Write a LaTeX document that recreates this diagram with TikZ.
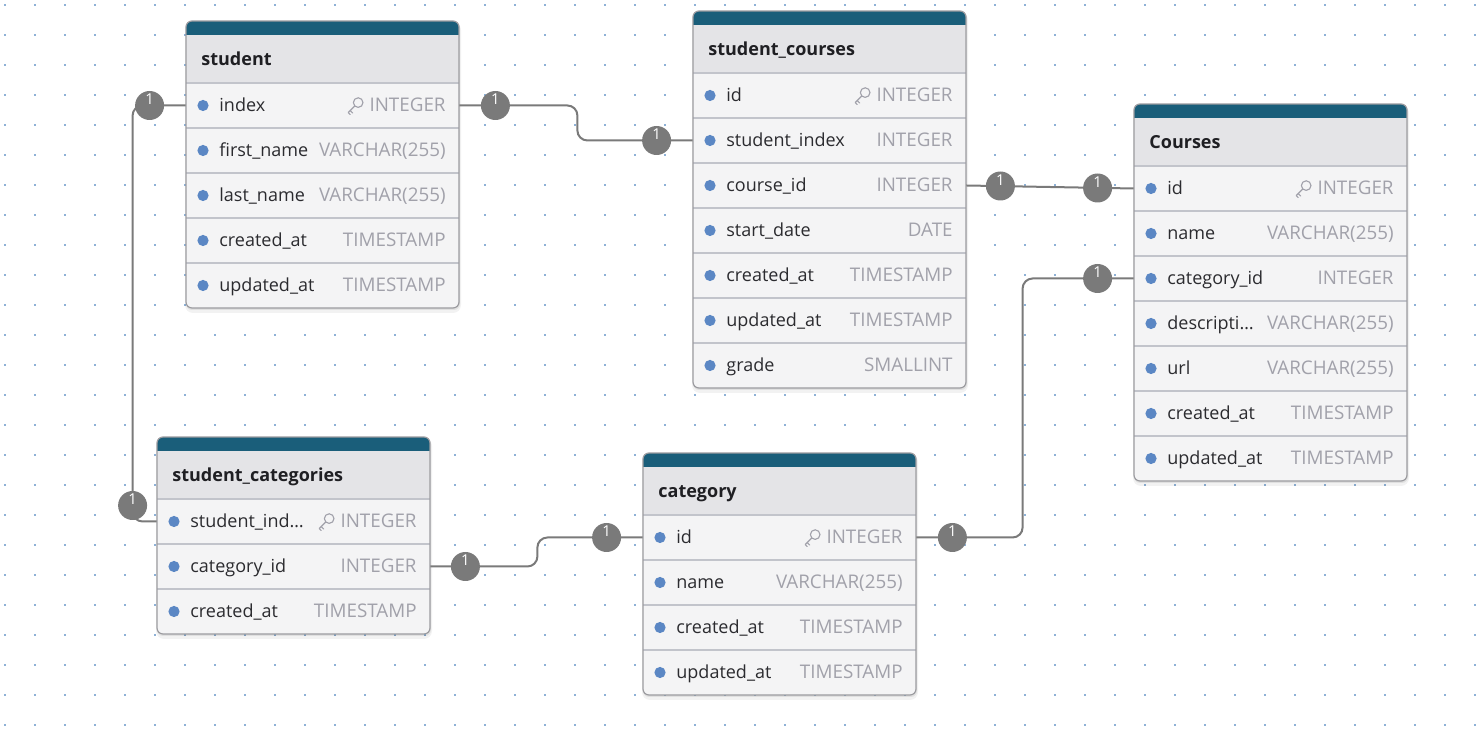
\documentclass[tikz,border=0pt]{standalone}
\usepackage{fontspec}
\setmainfont{Open Sans}

\definecolor{teal}{HTML}{1A5E7A}
\definecolor{headbg}{HTML}{E4E4E7}
\definecolor{rowbg}{HTML}{F4F4F5}
\definecolor{sepc}{HTML}{C2C4CB}
\definecolor{borderc}{HTML}{9C9CA0}
\definecolor{bulletc}{HTML}{5B87C4}
\definecolor{namec}{HTML}{2B2B2F}
\definecolor{typec}{HTML}{A1A1AA}
\definecolor{titlec}{HTML}{1F1F23}
\definecolor{linec}{HTML}{7A7A7A}
\definecolor{dotc}{HTML}{8EB1D6}

% #1 name, #2 left, #3 top, #4 rows, #5 title, #6 fields
\newcommand{\erdtable}[6]{%
	\pgfmathsetmacro\tabbot{#3+62+45*#4}
	\fill[black, opacity=.05, rounded corners=4pt] ({#2-1},{#3+1}) rectangle ({#2+275},{\tabbot+5});
	\fill[black, opacity=.07, rounded corners=3pt] (#2,{#3+1}) rectangle ({#2+274},{\tabbot+2});
	\fill[rowbg, rounded corners=3pt] (#2,#3) rectangle ({#2+273},\tabbot);
	\begin{scope}
		\clip[rounded corners=3pt] (#2,#3) rectangle ({#2+273},\tabbot);
		\fill[teal] (#2,#3) rectangle ({#2+273},{#3+14});
		\fill[headbg] (#2,{#3+14}) rectangle ({#2+273},{#3+62});
	\end{scope}
	\node[tabtitle] (#1) at ({#2+15},{#3+38+6.5}) {#5};
	\draw[sep] (#2,{#3+62}) -- ({#2+273},{#3+62});
	\foreach \fname/\ftype/\fkey [count=\i] in {#6}{
		\pgfmathsetmacro\ry{#3+62+45*\i-22.5}
		\node[rowbox] (#1-\i) at ({#2+136.5},\ry) {};
		\fill[bulletc] ({#2+17},\ry) circle (2.8pt);
		\node[fieldname] at ({#2+33},{\ry+6.5}) {\fname};
		\node[fieldtype] (#1-t\i) at ({#2+260},{\ry+6.5}) {\ftype};
		\ifnum\fkey=1\relax
			% key
			\begin{scope}[shift={([xshift=-7pt,yshift=3.2pt]#1-t\i.base west)}]
				\draw[keyic] (3,-3) circle (2.4pt);
				\draw[keyic, line cap=round] (-0.5,0.5) -- (-7,7) (-5,5) -- (-2.5,7.5) (-7,7) -- (-5,9);
			\end{scope}
		\fi
		\ifnum\i<#4\relax
			\draw[sep] (#2,{#3+62+45*\i}) -- ({#2+273},{#3+62+45*\i});
		\fi
	}
	\draw[tabborder, rounded corners=3pt] (#2,#3) rectangle ({#2+273},\tabbot);
}

\begin{document}
\begin{tikzpicture}[x=0.5pt, y=-0.5pt,
	tabtitle/.style={anchor=base west, inner sep=0, text=titlec, font=\bfseries\fontsize{9}{11}\selectfont},
	fieldname/.style={anchor=base west, inner sep=0, text=namec, font=\fontsize{9}{11}\selectfont},
	fieldtype/.style={anchor=base east, inner sep=0, text=typec, font=\fontsize{9.4}{11}\selectfont},
	rowbox/.style={minimum width=136.5pt, minimum height=22.5pt, inner sep=0},
	sep/.style={draw=sepc, line width=.7pt},
	tabborder/.style={draw=borderc, line width=.6pt},
	keyic/.style={draw=typec, line width=.55pt},
	conn/.style={draw=linec, line width=1pt, rounded corners=5pt},
	one/.style={circle, fill=linec, minimum size=14.5pt, inner sep=0, text=white, font=\fontsize{7.5}{8}\selectfont}]

	\fill[white] (0,0) rectangle (1480,731);
	\useasboundingbox (0,0) rectangle (1480,731);

	% dot grid
	\foreach \gx in {5,35,...,1475}{
		\foreach \gy in {5,35,...,725}{
			\fill[dotc] ({\gx-1},{\gy-1}) rectangle ++(2,2);
		}
	}

	% tables
	\erdtable{student}{186}{21}{5}{student}{index/INTEGER/1, first\_name/VARCHAR(255)/0, last\_name/VARCHAR(255)/0, created\_at/TIMESTAMP/0, updated\_at/TIMESTAMP/0}
	\erdtable{scourses}{693}{11}{7}{student\_courses}{id/INTEGER/1, student\_index/INTEGER/0, course\_id/INTEGER/0, start\_date/DATE/0, created\_at/TIMESTAMP/0, updated\_at/TIMESTAMP/0, grade/SMALLINT/0}
	\erdtable{courses}{1134}{104}{7}{Courses}{id/INTEGER/1, name/VARCHAR(255)/0, category\_id/INTEGER/0, descripti…/VARCHAR(255)/0, url/VARCHAR(255)/0, created\_at/TIMESTAMP/0, updated\_at/TIMESTAMP/0}
	\erdtable{scat}{157}{437}{3}{student\_categories}{student\_ind…/INTEGER/1, category\_id/INTEGER/0, created\_at/TIMESTAMP/0}
	\erdtable{category}{643}{453}{4}{category}{id/INTEGER/1, name/VARCHAR(255)/0, created\_at/TIMESTAMP/0, updated\_at/TIMESTAMP/0}

	% relations
	\draw[conn] (student-1.west) -- ++(-53,0) |- (scat-1.west);
	\draw[conn] (student-1.east) -- ++(118,0) |- (scourses-2.west);
	\draw[conn] (scourses-3.east) -- (courses-1.west);
	\draw[conn] (courses-3.west) -- ++(-111,0) |- (category-1.east);
	\draw[conn] (scat-2.east) -- ++(107,0) |- (category-1.west);

	% cardinality
	\node[one] (o1) at ([shift={(-36,0)}]student-1.west) {\smash{\raisebox{.3pt}{1}}};
	\node[one] (o2) at ([shift={(-24,-16)}]scat-1.west) {\smash{\raisebox{.3pt}{1}}};
	\node[one] (o3) at ([shift={(36,0)}]student-1.east) {\smash{\raisebox{.3pt}{1}}};
	\node[one] (o4) at ([shift={(-36,0)}]scourses-2.west) {\smash{\raisebox{.3pt}{1}}};
	\node[one] (o5) at ([shift={(34,0.5)}]scourses-3.east) {\smash{\raisebox{.3pt}{1}}};
	\node[one] (o6) at ([shift={(-36,-0.5)}]courses-1.west) {\smash{\raisebox{.3pt}{1}}};
	\node[one] (o7) at ([shift={(-36,0)}]courses-3.west) {\smash{\raisebox{.3pt}{1}}};
	\node[one] (o8) at ([shift={(36,0)}]category-1.east) {\smash{\raisebox{.3pt}{1}}};
	\node[one] (o9) at ([shift={(35,0)}]scat-2.east) {\smash{\raisebox{.3pt}{1}}};
	\node[one] (o10) at ([shift={(-36,0)}]category-1.west) {\smash{\raisebox{.3pt}{1}}};

\end{tikzpicture}
\end{document}
